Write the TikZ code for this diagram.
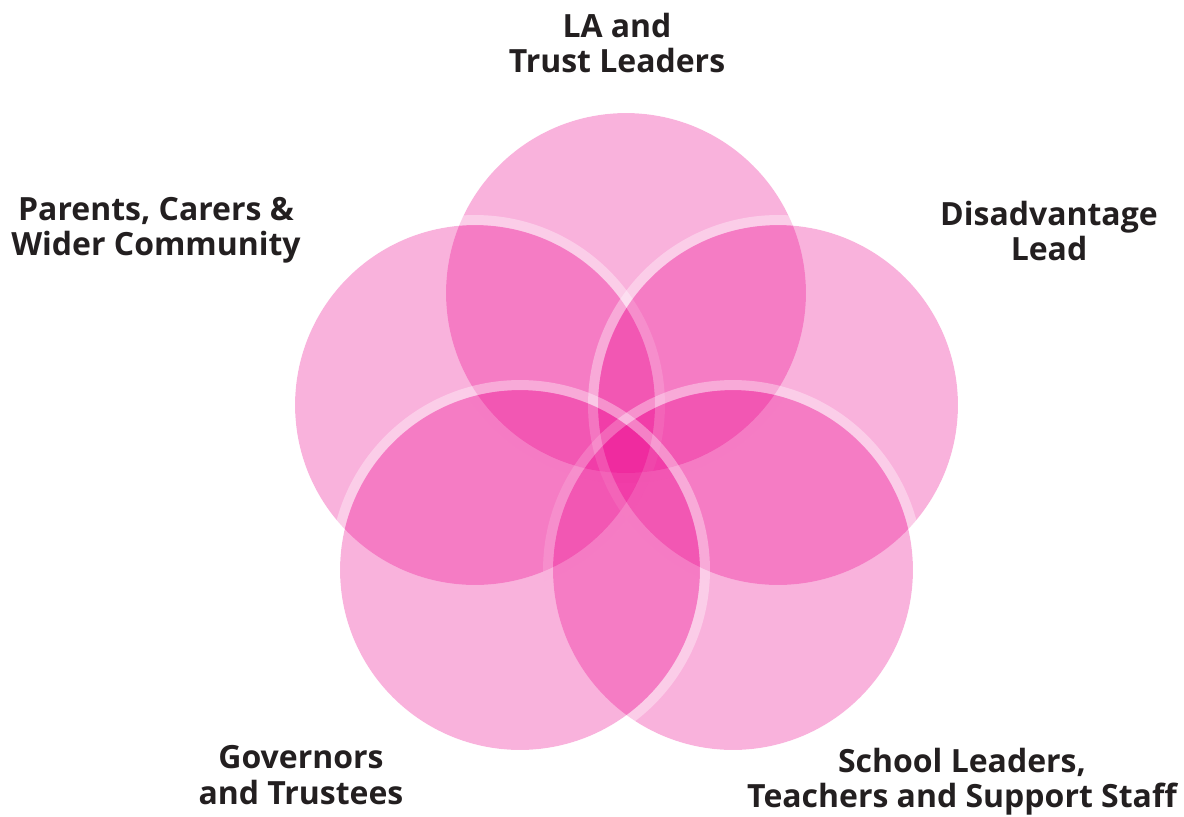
\documentclass[tikz,border=0pt]{standalone}
\usepackage{fontspec}
\setmainfont{Open Sans}
\begin{document}
\begin{tikzpicture}[x=0.02cm,y=-0.02cm,
  petal/.style={fill={rgb,255:red,236;green,0;blue,140},fill opacity=0.3},
  ring/.style={draw=white,draw opacity=0.35,line width=0.2cm},
  lbl/.style={text={rgb,255:red,35;green,31;blue,32},align=center,font=\bfseries\fontsize{18.2}{20}\selectfont,inner sep=0pt}]
\useasboundingbox (0,0) rectangle (1184,816);
% circles: top, left, right, bottom-right, bottom-left
\foreach \cx/\cy in {626/293, 475/405, 778/405, 733/570, 520/570}{
  \fill[petal] (\cx,\cy) circle (3.6cm);
  \draw[ring] (\cx,\cy) circle (3.7cm);
}
\node[lbl] (la) at (617,43) {LA and\\Trust Leaders};
\node[lbl] (par) at (156,230) {Parents, Carers \&\\Wider Community};
\node[lbl] (dis) at (1049,231) {Disadvantage\\Lead};
\node[lbl] (gov) at (301,775) {Governors\\and Trustees};
\node[lbl] (sch) at (962,782) {School Leaders,\\Teachers and Support Staff};
\end{tikzpicture}
\end{document}
